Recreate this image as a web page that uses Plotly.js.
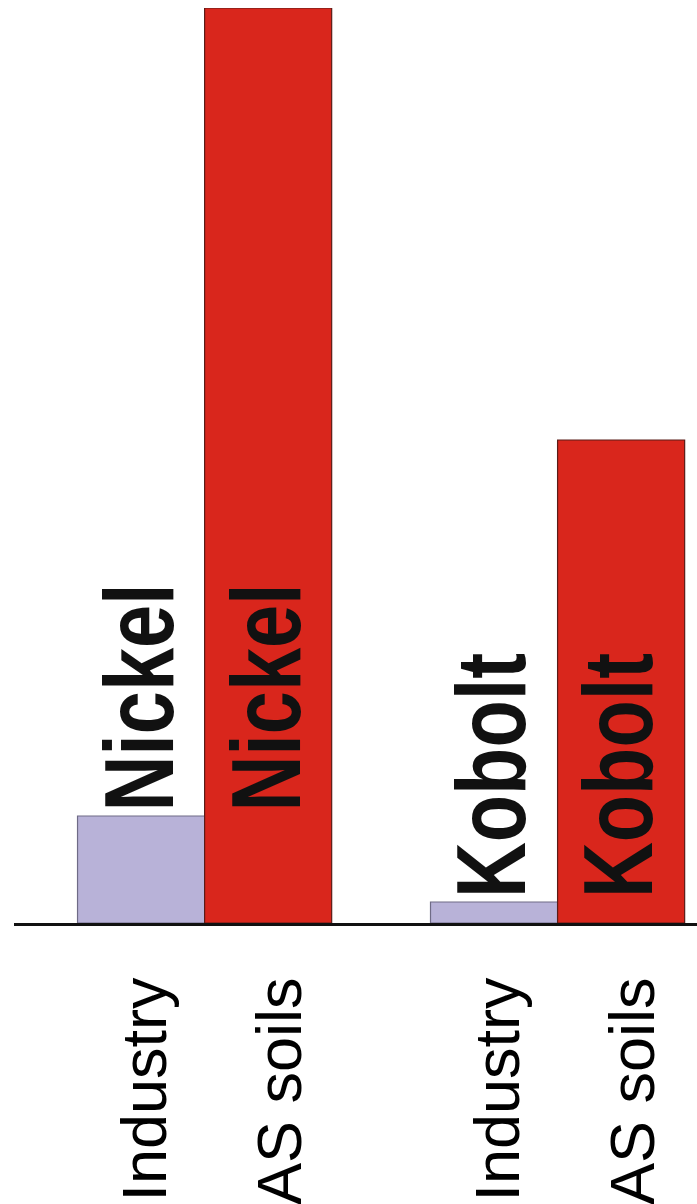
<!DOCTYPE html>
<html>
<head>
<meta charset="utf-8">
<script src="https://cdn.plot.ly/plotly-3.0.1.min.js"></script>
<style>html,body{margin:0;padding:0;background:#fff;}#chart{width:697px;height:1204px;}</style>
</head>
<body>
<div id="chart"></div>
<script>
const metals = ["Nickel", "Kobolt"];
const sources = ["Industry", "AS soils"];
const industryValues = [107, 21];
const asSoilsValues = [915, 483];

const barColors = ["#b8b2d8", "#d9261c"];
const barLines = ["#6f6b86", "#5a1c18"];

const traces = [
  {type: "bar", name: sources[0], x: metals, y: industryValues,
   marker: {color: barColors[0], line: {color: barLines[0], width: 1.2}}, hoverinfo: "none"},
  {type: "bar", name: sources[1], x: metals, y: asSoilsValues,
   marker: {color: barColors[1], line: {color: barLines[1], width: 1.2}}, hoverinfo: "none"}
];

const shift = 63.5;
const condense = 0.79;
const annotations = [];
metals.forEach((m, i) => {
  [-1, 1].forEach((s, k) => {
    annotations.push({
      x: m, y: industryValues[i], xref: "x", yref: "y",
      xshift: s * shift - 3, yshift: 2,
      xanchor: "center", yanchor: "bottom",
      text: m, textangle: -90, showarrow: false,
      font: {family: "Liberation Sans, Arial, sans-serif", size: 98, color: "#111", weight: "bold"}
    });
    annotations.push({
      x: m, y: 0, xref: "x", yref: "paper",
      xshift: s * shift + (k === 0 ? 2 : 11), yshift: -52,
      xanchor: "center", yanchor: "top",
      text: sources[k], textangle: -90, showarrow: false,
      font: {family: "Liberation Sans, Arial, sans-serif", size: 63, color: "#000"}
    });
  });
});

const layout = {
  width: 697, height: 1204,
  margin: {l: 14, r: 0, t: 8, b: 281},
  paper_bgcolor: "#fff", plot_bgcolor: "#fff",
  showlegend: false,
  barmode: "group", bargap: 0.28, bargroupgap: 0,
  xaxis: {type: "category", range: [-0.54, 1.395], showticklabels: false, ticks: "",
          showgrid: false, zeroline: false, showline: true, linecolor: "#111", linewidth: 2.5},
  yaxis: {range: [0, 915], visible: false, showgrid: false, zeroline: false},
  annotations: annotations
};

Plotly.newPlot("chart", traces, layout, {staticPlot: true, displayModeBar: false}).then(gd => {
  // condense the bold element labels (narrow bold face in the original)
  gd.querySelectorAll("text.annotation-text").forEach(t => {
    if (metals.indexOf(t.textContent) < 0) return;
    const L = t.getComputedTextLength();
    t.setAttribute("textLength", (L * condense).toFixed(1));
    t.setAttribute("lengthAdjust", "spacingAndGlyphs");
    t.setAttribute("transform", "translate(" + (-(L * (1 - condense) / 2)).toFixed(1) + ",0)");
  });
});
</script>
</body>
</html>
